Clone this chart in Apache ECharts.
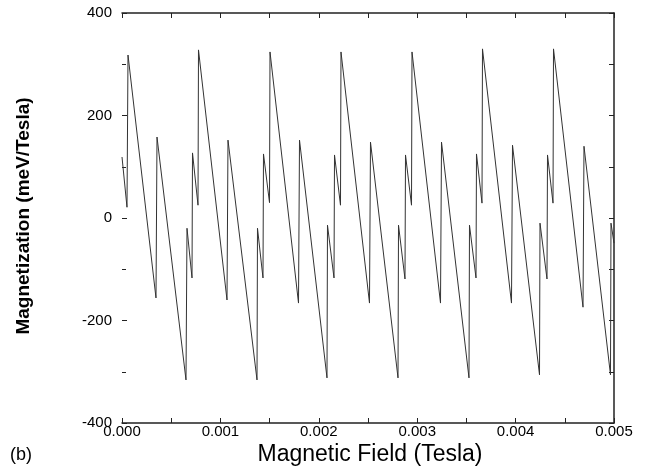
<!DOCTYPE html>
<html>
<head>
<meta charset="utf-8">
<script src="https://cdn.jsdelivr.net/npm/echarts@6/dist/echarts.min.js"></script>
<style>
html,body{margin:0;padding:0;background:#fff;}
#chart{width:645px;height:468px;}
</style>
</head>
<body>
<div id="chart"></div>
<script>
// Magnetic field (Tesla) at each vertex of the sawtooth trace
var fieldT = [
  0.0000000, 0.0000508,
  0.0000610, 0.0003455, 0.0003557, 0.0006504, 0.0006606, 0.0007114, 0.0007165, 0.0007724,
  0.0007774, 0.0010671, 0.0010772, 0.0013720, 0.0013770, 0.0014329, 0.0014380, 0.0014990,
  0.0015041, 0.0017937, 0.0018039, 0.0020833, 0.0020884, 0.0021545, 0.0021596, 0.0022205,
  0.0022256, 0.0025152, 0.0025254, 0.0028049, 0.0028100, 0.0028760, 0.0028811, 0.0029421,
  0.0029472, 0.0032368, 0.0032470, 0.0035264, 0.0035315, 0.0035976, 0.0036026, 0.0036585,
  0.0036636, 0.0039583, 0.0039685, 0.0042429, 0.0042480, 0.0043191, 0.0043242, 0.0043801,
  0.0043852, 0.0046850, 0.0046951, 0.0049644, 0.0049695, 0.0050000
];
// Magnetization (meV/Tesla) at each vertex
var magnetization = [
  119, 21,
  318, -156, 158, -316, -20, -117, 127, 25,
  328, -160, 152, -316, -20, -117, 125, 30,
  324, -166, 152, -312, -14, -117, 123, 25,
  324, -166, 148, -312, -14, -119, 123, 25,
  324, -166, 148, -312, -14, -117, 125, 29,
  330, -166, 142, -306, -10, -119, 123, 29,
  330, -174, 140, -306, -10, -49
];
var xTicks = {min: 0, max: 0.005, interval: 0.001};
var yTicks = {min: -400, max: 400, interval: 200};
var xTitle = 'Magnetic Field (Tesla)';
var yTitle = 'Magnetization (meV/Tesla)';
var panelLabel = '(b)';

var font = '"Liberation Sans", Arial, sans-serif';
var axisColor = '#222';
var pts = fieldT.map(function (x, i) { return [x, magnetization[i]]; });

var chart = echarts.init(document.getElementById('chart'), null, {renderer: 'canvas'});
function tickCfg() {
  return {show: true, inside: true, length: 5, lineStyle: {color: axisColor, width: 1}};
}
chart.setOption({
  animation: false,
  backgroundColor: '#fff',
  grid: {left: 122, right: 31, top: 13, bottom: 45, containLabel: false},
  xAxis: [{
    type: 'value', position: 'bottom',
    min: xTicks.min, max: xTicks.max, interval: xTicks.interval,
    axisLine: {show: true, onZero: false, lineStyle: {color: axisColor, width: 1.5}},
    axisTick: tickCfg(),
    minorTick: {show: true, splitNumber: 2, length: 5, lineStyle: {color: axisColor, width: 1}},
    splitLine: {show: false},
    axisLabel: {show: true, margin: 1, color: '#000', fontSize: 15, fontFamily: font,
      formatter: function (v) { return v.toFixed(3); }}
  }, {
    type: 'value', position: 'top',
    min: xTicks.min, max: xTicks.max, interval: xTicks.interval,
    axisLine: {show: true, onZero: false, lineStyle: {color: axisColor, width: 1.5}},
    axisTick: tickCfg(),
    minorTick: {show: true, splitNumber: 2, length: 5, lineStyle: {color: axisColor, width: 1}},
    splitLine: {show: false},
    axisLabel: {show: false}
  }],
  yAxis: [{
    type: 'value', position: 'left',
    min: yTicks.min, max: yTicks.max, interval: yTicks.interval,
    axisLine: {show: false},
    axisTick: tickCfg(),
    minorTick: {show: true, splitNumber: 2, length: 4, lineStyle: {color: axisColor, width: 1}},
    splitLine: {show: false},
    axisLabel: {show: true, margin: 10, color: '#000', fontSize: 15, fontFamily: font}
  }, {
    type: 'value', position: 'right',
    min: yTicks.min, max: yTicks.max, interval: yTicks.interval,
    axisLine: {show: true, onZero: false, lineStyle: {color: axisColor, width: 1.5}},
    axisTick: tickCfg(),
    minorTick: {show: true, splitNumber: 2, length: 5, lineStyle: {color: axisColor, width: 1}},
    splitLine: {show: false},
    axisLabel: {show: false}
  }],
  series: [{
    type: 'line',
    xAxisIndex: 0, yAxisIndex: 0,
    data: pts,
    showSymbol: false,
    symbol: 'none',
    lineStyle: {color: '#333', width: 1},
    silent: true
  }],
  graphic: [
    {type: 'text', x: 24, y: 216, rotation: Math.PI / 2,
      style: {text: yTitle, fill: '#000', font: 'bold 19px ' + font, textAlign: 'center', textVerticalAlign: 'middle'}},
    {type: 'text', x: 370, y: 455,
      style: {text: xTitle, fill: '#000', font: '23px ' + font, textAlign: 'center', textVerticalAlign: 'middle'}},
    {type: 'text', x: 10, y: 455,
      style: {text: panelLabel, fill: '#000', font: '18px ' + font, textAlign: 'left', textVerticalAlign: 'middle'}}
  ]
});
</script>
</body>
</html>
